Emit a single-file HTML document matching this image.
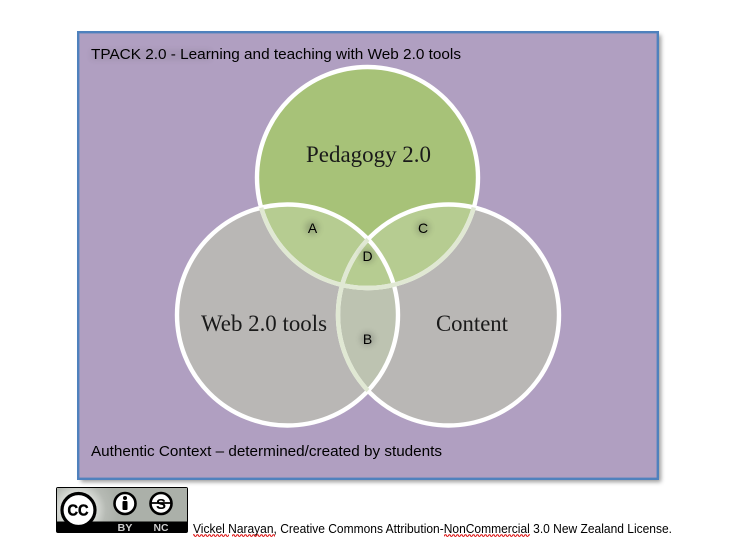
<!DOCTYPE html>
<html><head><meta charset="utf-8"><style>
html,body{margin:0;padding:0;background:#fff;width:731px;height:553px;overflow:hidden}
svg{display:block}
text{font-family:"Liberation Sans",sans-serif;fill:#000}
.s{font-family:"Liberation Serif",serif;font-size:23px;fill:#1a1a1a}
</style></head><body>
<svg width="731" height="553" viewBox="0 0 731 553" xmlns="http://www.w3.org/2000/svg">
<defs>
<filter id="sh" x="-5%" y="-5%" width="110%" height="110%"><feGaussianBlur stdDeviation="2"/></filter>
<filter id="ts" x="-20%" y="-60%" width="140%" height="220%"><feGaussianBlur stdDeviation="3"/></filter>
<clipPath id="cg"><circle cx="367.5" cy="177.5" r="110.5"/></clipPath>
<clipPath id="cl"><circle cx="287.5" cy="315" r="110.5"/></clipPath>
<clipPath id="cr"><circle cx="448.5" cy="315" r="110.5"/></clipPath>
<pattern id="w" width="4" height="3" patternUnits="userSpaceOnUse"><path d="M0 2.4L1 .8L2 .8L3 2.4L4 2.4" fill="none" stroke="#d11" stroke-width="1"/></pattern>
<radialGradient id="bg" gradientUnits="userSpaceOnUse" cx="78" cy="510" r="40"><stop offset="0" stop-color="#fff"/><stop offset=".48" stop-color="#d4d7d2"/><stop offset=".7" stop-color="#b6bab4"/><stop offset="1" stop-color="#abb0a9"/></radialGradient>
</defs>

<rect x="81" y="35" width="580" height="447" fill="#777" opacity=".75" filter="url(#sh)"/>
<rect x="78.2" y="32.2" width="579.6" height="446.6" fill="#b09fc1" stroke="#4f81bd" stroke-width="2.4"/>

<circle cx="367.5" cy="177.5" r="110.5" fill="#a7c278"/>
<circle cx="287.5" cy="315" r="110.5" fill="#b9b7b5"/>
<circle cx="448.5" cy="315" r="110.5" fill="#b9b7b5"/>
<g clip-path="url(#cl)"><circle cx="448.5" cy="315" r="110.5" fill="#bdc3b1"/></g>
<g clip-path="url(#cg)">
<circle cx="287.5" cy="315" r="110.5" fill="#b6cc91"/><circle cx="448.5" cy="315" r="110.5" fill="#b6cc91"/></g>

<g fill="none" stroke="#fff" stroke-width="4.4">
<circle cx="367.5" cy="177.5" r="110.5"/>
<circle cx="287.5" cy="315" r="110.5"/>
<circle cx="448.5" cy="315" r="110.5"/>
</g>
<g fill="none" stroke="#e0e8d3" stroke-width="4.4">
<g clip-path="url(#cl)"><circle cx="367.5" cy="177.5" r="110.5"/></g>
<g clip-path="url(#cr)"><circle cx="367.5" cy="177.5" r="110.5"/></g>
<g clip-path="url(#cl)"><circle cx="448.5" cy="315" r="110.5"/></g>
</g>

<g opacity=".22" filter="url(#ts)">
<rect x="91" y="50" width="120" height="10" fill="#333" opacity=".4"/>
<circle cx="312" cy="228" r="7" fill="#333"/><circle cx="423" cy="228" r="7" fill="#333"/>
<circle cx="367.5" cy="256" r="7" fill="#333"/><circle cx="367.5" cy="339" r="7" fill="#333"/>
</g>

<text x="91" y="59" font-size="14.5" textLength="370" lengthAdjust="spacingAndGlyphs">TPACK 2.0 - Learning and teaching with Web 2.0 tools</text>
<text x="91" y="456" font-size="14.5" textLength="351" lengthAdjust="spacingAndGlyphs">Authentic Context – determined/created by students</text>
<text class="s" x="306" y="162" textLength="125" lengthAdjust="spacingAndGlyphs">Pedagogy 2.0</text>
<text class="s" x="201" y="331" textLength="126" lengthAdjust="spacingAndGlyphs">Web 2.0 tools</text>
<text class="s" x="436" y="331" textLength="72" lengthAdjust="spacingAndGlyphs">Content</text>
<g font-size="14" text-anchor="middle">
<text x="312.5" y="233">A</text><text x="423" y="233">C</text><text x="367.5" y="261">D</text><text x="367.5" y="344">B</text>
</g>

<!-- CC badge -->
<rect x="56" y="487" width="132" height="46" rx="2" fill="#000"/>
<rect x="57" y="488" width="130" height="33.5" fill="url(#bg)"/>
<circle cx="78.5" cy="510" r="16.5" fill="#fff" stroke="#000" stroke-width="3.2"/>
<text x="78" y="515.5" font-size="16" font-weight="bold" text-anchor="middle" style="fill:#000;stroke:#000;stroke-width:.5" textLength="21" lengthAdjust="spacingAndGlyphs">CC</text>
<circle cx="125" cy="503.5" r="10.5" fill="#fff" stroke="#000" stroke-width="2.6"/>
<circle cx="125" cy="498" r="2" fill="#000"/><rect x="122.5" y="501" width="5" height="9" rx="1" fill="#000"/>
<circle cx="161" cy="503.5" r="10.5" fill="#fff" stroke="#000" stroke-width="2.6"/>
<text x="161" y="509" font-size="15" font-weight="bold" text-anchor="middle" style="fill:#000">S</text>
<line x1="151" y1="503" x2="171" y2="503" stroke="#000" stroke-width="1.8"/>
<text x="125" y="531" font-size="10.5" font-weight="bold" text-anchor="middle" style="fill:#ccc" textLength="15" lengthAdjust="spacingAndGlyphs">BY</text>
<text x="161" y="531" font-size="10.5" font-weight="bold" text-anchor="middle" style="fill:#ccc" textLength="15" lengthAdjust="spacingAndGlyphs">NC</text>

<text x="193" y="533" font-size="12.5" textLength="479" lengthAdjust="spacingAndGlyphs">Vickel Narayan, Creative Commons Attribution-NonCommercial 3.0 New Zealand License.</text>
<rect x="193" y="534" width="36" height="3" fill="url(#w)"/>
<rect x="232" y="534" width="43" height="3" fill="url(#w)"/>
<rect x="444" y="534" width="86" height="3" fill="url(#w)"/>
</svg>
</body></html>
